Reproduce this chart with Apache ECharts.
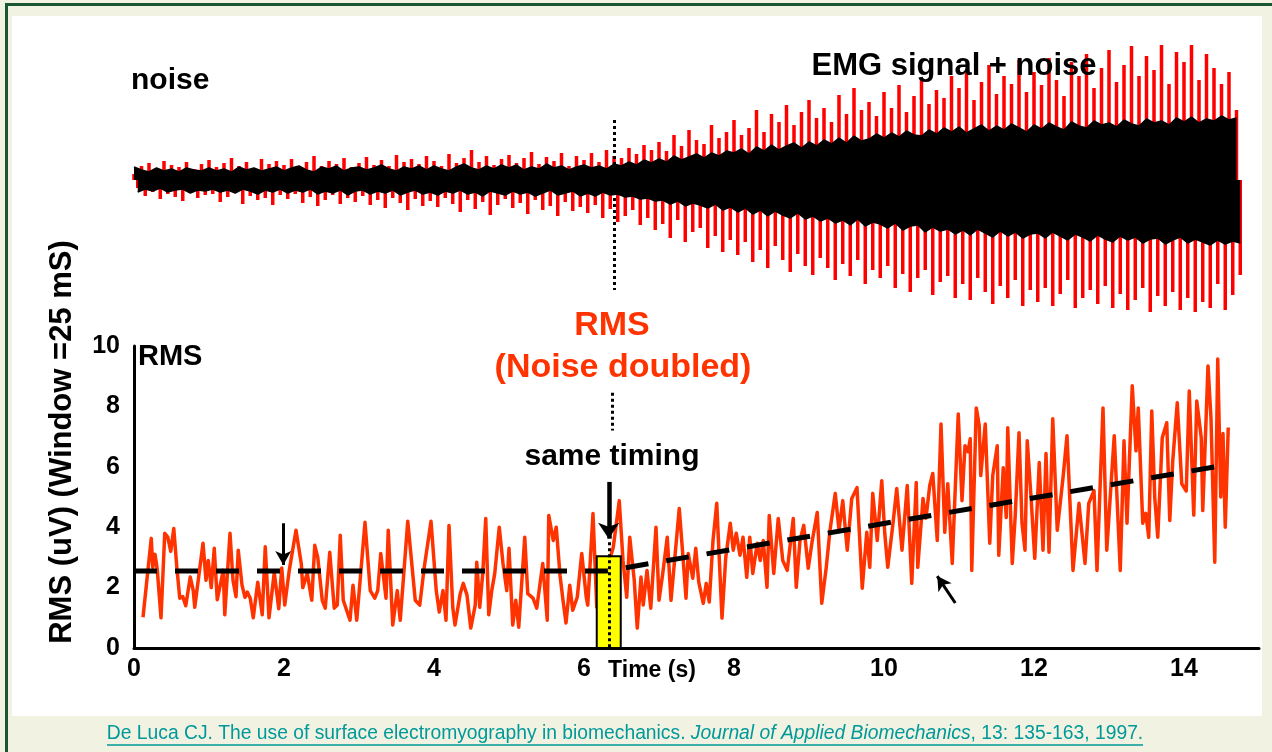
<!DOCTYPE html>
<html><head><meta charset="utf-8">
<script src="https://cdn.jsdelivr.net/npm/echarts@6/dist/echarts.min.js"></script>
<style>html,body{margin:0;padding:0;background:#f2f2e2;}#c{width:1272px;height:752px;}</style>
</head><body><div id="c"></div>
<script>
// ---------- RMS (noise doubled) trace, bottom panel ----------
const rmsTime = [0.12,0.23,0.25,0.28,0.31,0.36,0.41,0.45,0.49,0.53,0.57,0.61,0.65,0.69,0.75,0.79,0.81,0.92,0.96,0.99,1.03,1.07,1.11,1.19,1.21,1.28,1.32,1.36,1.39,1.44,1.48,1.51,1.55,1.59,1.65,1.71,1.75,1.80,1.87,1.93,1.97,2.01,2.07,2.16,2.23,2.25,2.31,2.37,2.41,2.45,2.51,2.55,2.61,2.67,2.71,2.75,2.79,2.88,2.92,2.97,3.08,3.15,3.21,3.25,3.29,3.36,3.39,3.45,3.51,3.55,3.65,3.75,3.81,3.87,3.96,4.03,4.07,4.12,4.16,4.20,4.25,4.28,4.35,4.39,4.44,4.49,4.55,4.57,4.61,4.65,4.69,4.73,4.77,4.81,4.87,4.92,4.97,5.00,5.05,5.09,5.13,5.21,5.25,5.32,5.37,5.45,5.51,5.53,5.59,5.63,5.68,5.72,5.76,5.81,5.85,5.91,5.97,6.03,6.05,6.12,6.17,6.21,6.31,6.39,6.47,6.52,6.57,6.61,6.67,6.71,6.76,6.79,6.84,6.89,6.96,7.00,7.05,7.11,7.16,7.27,7.32,7.36,7.39,7.45,7.49,7.53,7.59,7.63,7.67,7.72,7.77,7.84,7.89,7.95,7.99,8.03,8.08,8.12,8.17,8.21,8.25,8.31,8.35,8.39,8.44,8.47,8.53,8.59,8.65,8.71,8.79,8.83,8.88,8.93,8.99,9.04,9.11,9.17,9.23,9.28,9.35,9.40,9.45,9.51,9.57,9.64,9.71,9.77,9.81,9.85,9.91,9.97,10.01,10.05,10.12,10.17,10.24,10.31,10.37,10.43,10.45,10.52,10.56,10.61,10.65,10.71,10.76,10.81,10.85,10.91,10.99,11.04,11.08,11.12,11.15,11.17,11.23,11.27,11.29,11.35,11.41,11.45,11.51,11.53,11.59,11.63,11.65,11.71,11.75,11.80,11.84,11.88,11.91,11.96,12.01,12.07,12.12,12.16,12.20,12.25,12.31,12.39,12.44,12.52,12.60,12.68,12.73,12.80,12.84,12.92,12.97,13.07,13.15,13.20,13.24,13.31,13.36,13.39,13.45,13.49,13.53,13.57,13.61,13.65,13.71,13.77,13.81,13.85,13.91,13.97,14.03,14.07,14.13,14.17,14.23,14.25,14.32,14.36,14.41,14.45,14.49,14.52,14.55,14.59];
const rmsValue = [1.02,3.63,2.67,3.1,2.6,1.0,3.8,3.67,3.2,3.96,2.7,1.65,1.7,1.4,2.35,1.9,1.35,3.47,2.24,2.9,2.0,3.3,1.6,2.57,1.1,3.8,2.24,1.7,3.24,2.08,1.68,1.85,1.65,1.0,2.18,1.1,3.35,1.0,2.5,1.3,2.65,1.42,2.57,3.9,2.8,2.0,2.47,1.58,3.4,3.0,1.58,1.32,3.17,1.32,1.42,3.73,1.58,0.92,2.08,0.92,4.16,1.9,1.65,1.9,3.13,1.65,3.9,0.76,1.9,0.92,4.2,1.58,1.42,2.67,4.2,1.9,1.19,1.9,0.92,4.06,1.35,0.76,1.8,2.14,1.75,0.66,1.42,2.84,1.35,2.47,4.29,1.1,1.9,2.47,4.0,2.8,1.9,3.3,0.76,1.58,0.69,3.67,1.8,1.65,1.32,2.8,0.92,4.39,3.56,4.0,2.41,1.58,0.83,2.08,1.25,1.68,3.13,1.68,1.42,4.45,1.35,2.14,2.67,3.33,4.88,2.9,1.68,3.67,2.24,0.66,2.35,1.42,2.57,1.32,4.0,1.58,2.47,3.67,1.58,4.62,3.0,1.65,3.13,2.31,3.3,2.18,1.48,2.14,1.52,3.56,4.79,0.99,3.0,4.13,3.24,3.8,3.07,3.67,2.34,3.67,2.47,3.47,2.9,3.56,2.01,4.39,2.47,4.29,2.9,2.57,4.29,2.01,3.56,4.06,2.64,3.5,4.49,1.48,2.67,3.9,5.12,3.9,4.88,3.24,4.95,5.31,1.98,3.83,2.67,5.12,3.56,5.54,3.8,2.67,4.13,5.28,3.24,5.38,2.14,5.48,2.67,4.95,4.3,5.38,5.78,3.56,7.42,3.83,5.44,2.8,7.75,4.88,6.7,6.5,6.93,2.57,7.95,7.36,5.71,7.42,3.47,5.71,6.7,3.07,5.97,4.32,7.29,2.8,4.39,7.13,4.13,3.24,6.86,5.0,2.97,6.14,3.24,6.44,3.17,7.59,3.9,5.71,7.03,2.57,4.79,2.8,4.79,5.21,2.57,7.95,3.24,7.03,2.57,6.86,4.13,8.68,6.53,7.95,4.13,4.46,3.67,7.85,4.98,3.67,6.96,7.46,4.22,6.2,8.12,5.44,5.2,8.51,4.4,8.18,6.96,4.55,9.34,7.6,2.84,9.57,5.0,7.1,4.0,7.3];

// ---------- dashed trend (mean RMS) ----------
const trendTime = [0, 6.3, 14.56];
const trendValue = [2.55, 2.55, 6.06];

// ---------- highlighted onset window ----------
const onsetStart = 6.17, onsetEnd = 6.49, onsetTop = 3.04;

// ---------- axis ticks ----------
const xTicks = [0, 2, 4, 6, 8, 10, 12, 14];
const yTicks = [0, 2, 4, 6, 8, 10];

// ---------- raw EMG (top panel), amplitudes in display units ----------
const emgTime = [0,0.1,0.2,0.3,0.4,0.5,0.6,0.7,0.8,0.9,
1,1.1,1.2,1.3,1.4,1.5,1.6,1.7,1.8,1.9,
2,2.1,2.2,2.3,2.4,2.5,2.6,2.7,2.8,2.9,
3,3.1,3.2,3.3,3.4,3.5,3.6,3.7,3.8,3.9,
4,4.1,4.2,4.3,4.4,4.5,4.6,4.7,4.8,4.9,
5,5.1,5.2,5.3,5.4,5.5,5.6,5.7,5.8,5.9,
6,6.1,6.2,6.3,6.4,6.5,6.6,6.7,6.8,6.9,
7,7.1,7.2,7.3,7.4,7.5,7.6,7.7,7.8,7.9,
8,8.1,8.2,8.3,8.4,8.5,8.6,8.7,8.8,8.9,
9,9.1,9.2,9.3,9.4,9.5,9.6,9.7,9.8,9.9,
10,10.1,10.2,10.3,10.4,10.5,10.6,10.7,10.8,10.9,
11,11.1,11.2,11.3,11.4,11.5,11.6,11.7,11.8,11.9,
12,12.1,12.2,12.3,12.4,12.5,12.6,12.7,12.8,12.9,
13,13.1,13.2,13.3,13.4,13.5,13.6,13.7,13.8,13.9,
14,14.1,14.2,14.3,14.4,14.5,14.6,14.7];
const emgBlackUp = [13,10,8,12,9,11,8,12,10,9,
12,9,11,8,13,10,12,9,11,13,
9,12,14,10,8,13,11,14,9,12,
13,10,12,15,11,9,13,11,14,10,
14,11,9,13,16,12,10,14,11,15,
12,15,10,13,11,16,12,14,10,13,
15,12,14,11,16,14,18,15,20,17,
21,18,24,20,23,26,22,27,24,29,
27,31,26,33,29,35,30,34,37,32,
38,34,40,36,42,37,44,39,41,46,
42,47,43,49,45,44,50,46,52,48,
53,47,51,55,49,54,50,56,52,48,
55,51,57,53,50,58,54,52,59,55,
57,53,60,56,54,61,57,59,55,62,
58,63,57,61,59,64,60,62];
const emgBlackDown = [12,9,11,8,12,10,9,13,10,11,
9,12,10,13,9,11,14,10,12,9,
13,10,12,9,14,11,13,10,15,11,
10,14,11,13,10,15,12,10,14,12,
15,11,13,10,14,12,16,11,13,15,
11,14,12,16,13,10,15,13,11,16,
13,16,12,15,14,17,16,19,18,21,
20,24,21,26,23,25,28,24,30,27,
32,28,34,30,36,31,35,38,33,39,
36,41,38,43,40,45,39,46,42,44,
48,43,50,46,45,52,47,51,49,54,
50,55,49,53,57,51,56,52,58,54,
53,58,52,56,60,54,57,61,55,59,
62,56,60,57,63,59,58,64,60,57,
63,59,62,65,60,64,61,63];
const emgRedUp = [6,14,17,12,19,15,13,18,11,16,
20,13,17,22,14,18,12,21,16,19,
15,21,13,18,24,14,19,16,22,13,
17,23,15,20,14,25,18,21,16,24,
19,14,26,17,22,30,18,24,15,21,
25,17,22,28,16,23,19,27,14,24,
20,27,18,30,24,22,32,26,35,30,
38,29,45,34,50,40,36,55,42,48,
60,45,52,70,48,66,58,75,55,68,
80,62,72,58,85,66,92,70,78,64,
88,72,95,68,84,100,76,90,82,104,
92,110,80,98,115,86,104,96,120,88,
108,95,122,100,84,118,104,126,92,112,
130,98,115,134,104,124,110,135,96,128,
118,135,100,126,112,96,108,70];
const emgRedDown = [8,16,12,19,14,17,21,13,18,15,
14,22,17,13,24,16,20,18,25,15,
19,14,23,17,26,20,15,24,18,22,
16,25,20,28,18,23,30,19,26,21,
27,18,24,32,20,29,22,35,25,19,
28,23,34,20,30,26,36,22,31,27,
33,25,38,29,42,36,30,45,38,50,
44,58,40,62,52,48,68,56,72,60,
75,62,82,70,88,66,80,92,74,86,
95,78,88,100,84,96,80,104,90,98,
86,108,94,112,98,90,115,102,96,118,
104,120,98,112,124,106,118,100,126,110,
122,108,126,114,100,128,118,110,124,106,
128,114,130,120,108,132,116,126,112,130,
118,132,122,128,104,130,115,95];

[[rmsTime, rmsValue, 'rms'], [emgTime, emgBlackUp, 'bu'], [emgTime, emgBlackDown, 'bd'], [emgTime, emgRedUp, 'ru'], [emgTime, emgRedDown, 'rd']].forEach(([a, b, n]) => {
  if (a.length !== b.length) throw new Error('length mismatch ' + n + ': ' + a.length + ' vs ' + b.length);
});

const FONT = "'Liberation Sans', Arial, Helvetica, sans-serif";
const RED = '#ff3300';
const TEAL = '#009999';
const HALF = 0.05; // negative half-cycles sit half a sample after the positive ones

const chart = echarts.init(document.getElementById('c'), null, {renderer: 'canvas'});

function arrow(from, to, w, head) {
  return [
    {coord: from, symbol: 'none', lineStyle: {color: '#000', width: w, type: 'solid'}},
    {coord: to, symbol: 'arrow', symbolSize: head}
  ];
}
function dotted(from, to) {
  return [
    {coord: from, symbol: 'none', lineStyle: {color: '#000', width: 3, type: [3, 3]}},
    {coord: to, symbol: 'none'}
  ];
}

const option = {
  animation: false,
  backgroundColor: '#f2f2e2',
  grid: [
    {left: 134, top: 346, width: 1125, height: 302},
    {left: 134, top: 40, width: 1125, height: 280}
  ],
  xAxis: [
    {type: 'value', gridIndex: 0, min: 0, max: 15, interval: 2,
     axisLine: {lineStyle: {color: '#000', width: 3}},
     axisTick: {show: false}, splitLine: {show: false},
     axisLabel: {color: '#000', fontFamily: FONT, fontWeight: 'bold', fontSize: 25, margin: 9,
       formatter: v => xTicks.includes(v) ? String(v) : ''}},
    {type: 'value', gridIndex: 1, min: 0, max: 15, show: false}
  ],
  yAxis: [
    {type: 'value', gridIndex: 0, min: 0, max: 10, interval: 2, offset: 4,
     axisLine: {show: true, lineStyle: {color: '#000', width: 3}},
     axisTick: {show: false}, splitLine: {show: false},
     axisLabel: {color: '#000', fontFamily: FONT, fontWeight: 'bold', fontSize: 25, margin: 10,
       formatter: v => yTicks.includes(v) ? String(v) : ''}},
    {type: 'value', gridIndex: 1, min: -140, max: 140, show: false}
  ],
  series: [
    // top panel: signal with doubled noise (red spikes)
    {type: 'bar', xAxisIndex: 1, yAxisIndex: 1, silent: true, barWidth: 3.5, barGap: '-100%', z: 2,
     itemStyle: {color: '#ff0000'}, data: emgTime.map((t, i) => [t, emgRedUp[i]])},
    {type: 'bar', xAxisIndex: 1, yAxisIndex: 1, silent: true, barWidth: 3.5, barGap: '-100%', z: 2,
     itemStyle: {color: '#ff0000'}, data: emgTime.map((t, i) => [+(t + HALF).toFixed(2), -emgRedDown[i]])},
    // top panel: original signal (black band)
    {type: 'line', xAxisIndex: 1, yAxisIndex: 1, silent: true, showSymbol: false, z: 3,
     lineStyle: {color: '#000', width: 1.5}, areaStyle: {color: '#000', opacity: 1},
     data: emgTime.map((t, i) => [t, emgBlackUp[i]]),
     markLine: {silent: true, animation: false, label: {show: false}, data: [dotted([6.4, 60], [6.4, -110])]}},
    {type: 'line', xAxisIndex: 1, yAxisIndex: 1, silent: true, showSymbol: false, z: 3,
     lineStyle: {color: '#000', width: 1.5}, areaStyle: {color: '#000', opacity: 1},
     data: emgTime.map((t, i) => [+(t + HALF).toFixed(2), -emgBlackDown[i]])},
    // bottom panel: RMS trace
    {type: 'line', xAxisIndex: 0, yAxisIndex: 0, silent: true, showSymbol: false, z: 2,
     lineStyle: {color: RED, width: 3.5, join: 'round'},
     data: rmsTime.map((t, i) => [t, rmsValue[i]])},
    // onset window (drawn over the trace)
    {type: 'line', xAxisIndex: 0, yAxisIndex: 0, silent: true, z: 3, data: [],
     markArea: {z: 3, silent: true, animation: false,
       itemStyle: {color: '#ffff00', borderColor: '#000', borderWidth: 2},
       data: [[{coord: [onsetStart, 0]}, {coord: [onsetEnd, onsetTop]}]]}},
    // trend
    {type: 'line', xAxisIndex: 0, yAxisIndex: 0, silent: true, showSymbol: false, z: 4,
     lineStyle: {color: '#000', width: 5, type: [23, 18]},
     data: trendTime.map((t, i) => [t, trendValue[i]]),
     markLine: {z: 6, silent: true, animation: false, label: {show: false},
       data: [
         arrow([6.33, 5.5], [6.33, 3.62], 4.5, [16, 16]),
         arrow([1.99, 4.13], [1.99, 2.75], 3, [12, 14]),
         arrow([10.95, 1.49], [10.71, 2.38], 3, [12, 14]),
         dotted([6.33, 3.5], [6.33, 0]),
         dotted([6.37, 8.45], [6.37, 7.2])
       ]}}
  ],
  graphic: [
    {type: 'rect', z: -100, silent: true, shape: {x: 12, y: 16, width: 1250, height: 700}, style: {fill: '#ffffff'}},
    {type: 'rect', z: -99, silent: true, shape: {x: 5, y: 3, width: 3, height: 749}, style: {fill: '#1b5632'}},
    {type: 'rect', z: -99, silent: true, shape: {x: 5, y: 3, width: 1267, height: 3}, style: {fill: '#1b5632'}},
    {type: 'text', z: 100, x: 131, y: 81, style: {text: 'noise', font: 'bold 30px ' + FONT, fill: '#000', align: 'left', verticalAlign: 'middle'}},
    {type: 'text', z: 100, x: 954, y: 66, style: {text: 'EMG signal + noise', font: 'bold 31px ' + FONT, fill: '#000', align: 'center', verticalAlign: 'middle'}},
    {type: 'text', z: 100, x: 138, y: 357, style: {text: 'RMS', font: 'bold 29px ' + FONT, fill: '#000', align: 'left', verticalAlign: 'middle'}},
    {type: 'text', z: 100, x: 612, y: 326, style: {text: 'RMS', font: 'bold 34px ' + FONT, fill: RED, align: 'center', verticalAlign: 'middle'}},
    {type: 'text', z: 100, x: 623, y: 368, style: {text: '(Noise doubled)', font: 'bold 34px ' + FONT, fill: RED, align: 'center', verticalAlign: 'middle'}},
    {type: 'text', z: 100, x: 612, y: 457, style: {text: 'same timing', font: 'bold 30px ' + FONT, fill: '#000', align: 'center', verticalAlign: 'middle'}},
    {type: 'text', z: 100, x: 652, y: 671, style: {text: 'Time (s)', font: 'bold 23px ' + FONT, fill: '#000', align: 'center', verticalAlign: 'middle'}},
    {type: 'text', z: 100, x: 62, y: 442, rotation: Math.PI / 2, style: {text: 'RMS (uV) (Window =25 mS)', font: 'bold 31px ' + FONT, fill: '#000', align: 'center', verticalAlign: 'middle'}},
    {type: 'text', z: 100, x: 625, y: 734, style: {
      text: '{n|De Luca CJ. The use of surface electromyography in biomechanics. }{i|Journal of Applied Biomechanics}{n|, 13: 135-163, 1997.}',
      align: 'center', verticalAlign: 'middle',
      rich: {
        n: {fontFamily: FONT, fontSize: 19.3, fill: TEAL, color: TEAL},
        i: {fontFamily: FONT, fontSize: 19.3, fontStyle: 'italic', fill: TEAL, color: TEAL}
      }}},
    {type: 'line', z: 100, silent: true, shape: {x1: 107, y1: 745, x2: 1143, y2: 745}, style: {stroke: TEAL, lineWidth: 1.5}}
  ]
};
chart.setOption(option);
</script>
</body></html>
